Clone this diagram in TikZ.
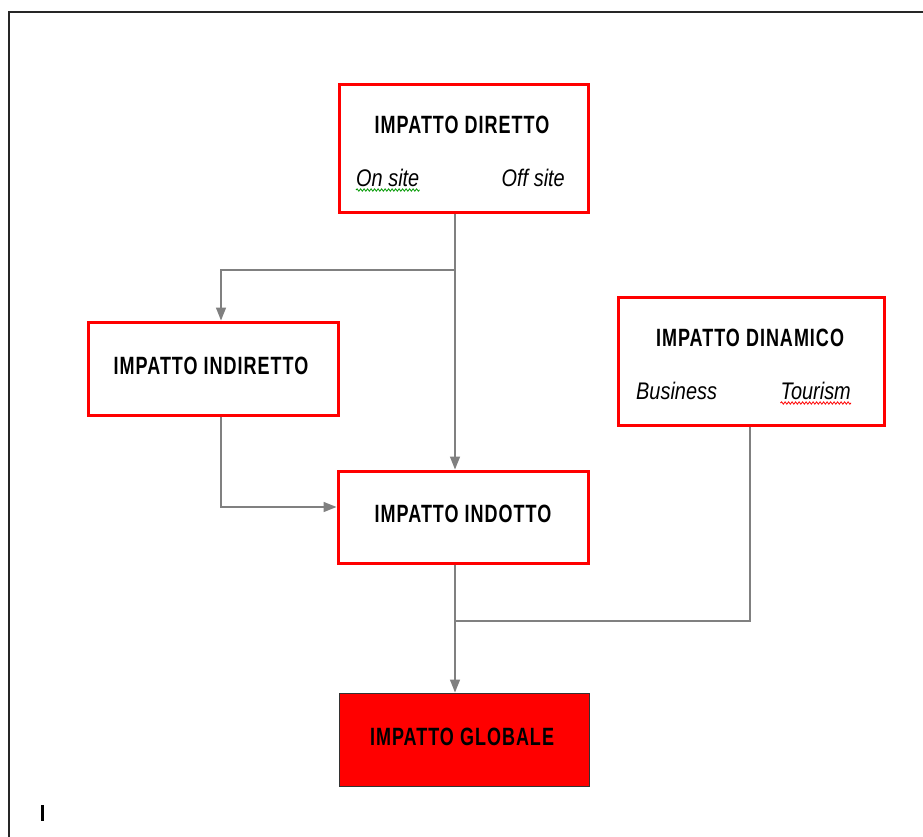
\documentclass[tikz,border=0pt]{standalone}
\usepackage{fontspec}
\newfontfamily\diagfont{Liberation Sans}[FakeStretch=0.83]
\newfontfamily\titlefont{Liberation Sans}[FakeStretch=0.72, LetterSpace=4]
\usetikzlibrary{arrows.meta,decorations.pathmorphing}
\definecolor{conngray}{RGB}{128,128,128}
\definecolor{boxred}{RGB}{255,0,0}
\begin{document}
\begin{tikzpicture}[x=1pt,y=-1pt,
  redbox/.style={draw=boxred, line width=3pt, fill=white, inner sep=0pt},
  globbox/.style={draw=black!80, line width=1pt, fill=boxred, inner sep=0pt},
  titletext/.style={font=\titlefont\fontsize{25}{29}\selectfont\bfseries, inner sep=0pt},
  subtext/.style={font=\diagfont\fontsize{24}{28}\selectfont\itshape, inner sep=0pt},
  conn/.style={draw=conngray, line width=1.5pt},
  arr/.style={conn, -{Triangle[length=13pt,width=10pt]}},
  squig/.style={line width=0.8pt, decorate, decoration={snake, amplitude=1.2pt, segment length=3.5pt}}
]
\useasboundingbox (0,0) rectangle (923,837);
\fill[white] (0,0) rectangle (923,837);
% outer frame (left and top edges)
\draw[line width=2pt, black!85] (9,837) -- (9,12) -- (923,12);

% boxes
\node[redbox, minimum width=249pt, minimum height=127pt] (dir) at (463.5,148.5) {};
\node[redbox, minimum width=250pt, minimum height=93pt] (indir) at (213,368.5) {};
\node[redbox, minimum width=266pt, minimum height=128pt] (din) at (751,361) {};
\node[redbox, minimum width=250pt, minimum height=92pt] (indotto) at (463,517) {};
\node[globbox, minimum width=250pt, minimum height=93pt] (glob) at (464,739.5) {};

% texts
\node[titletext] (dirT) at (462,125) {IMPATTO DIRETTO};
\node[subtext, anchor=base west] (on) at (356,187) {On site};
\node[subtext, anchor=base east] (off) at (565,187) {Off site};
\node[titletext] (indirT) at (211,366) {IMPATTO INDIRETTO};
\node[titletext] (dinT) at (750,338) {IMPATTO DINAMICO};
\node[subtext, anchor=base west] (bus) at (636,399) {Business};
\node[subtext, anchor=base east] (tour) at (851,399) {Tourism};
\node[titletext] (indottoT) at (463,514) {IMPATTO INDOTTO};
\node[titletext] (globT) at (462,737) {IMPATTO GLOBALE};

% spell-check squiggles
\draw[squig, green!60!black] ([yshift=-3pt]on.base west) -- ([yshift=-3pt]on.base east);
\draw[squig, red] ([yshift=-4pt]tour.base west) -- ([yshift=-4pt]tour.base east);

% connector helpers
\coordinate (j1) at (455,270);
\coordinate (xa) at (221,0);
\coordinate (ya) at (0,507);
\coordinate (xb) at (750,0);
\coordinate (j3) at (455,621);

% connectors
\draw[arr] (dir.south -| j1) -- (indotto.north -| j1);
\draw[arr] (j1) -| (indir.north -| xa);
\draw[arr] (indir.south -| xa) |- (indotto.west |- ya);
\draw[arr] (indotto.south -| j1) -- (glob.north -| j1);
\draw[conn] (din.south -| xb) |- (j3);

% text cursor mark
\fill[black] (41,805) rectangle (44,821);
\end{tikzpicture}
\end{document}
